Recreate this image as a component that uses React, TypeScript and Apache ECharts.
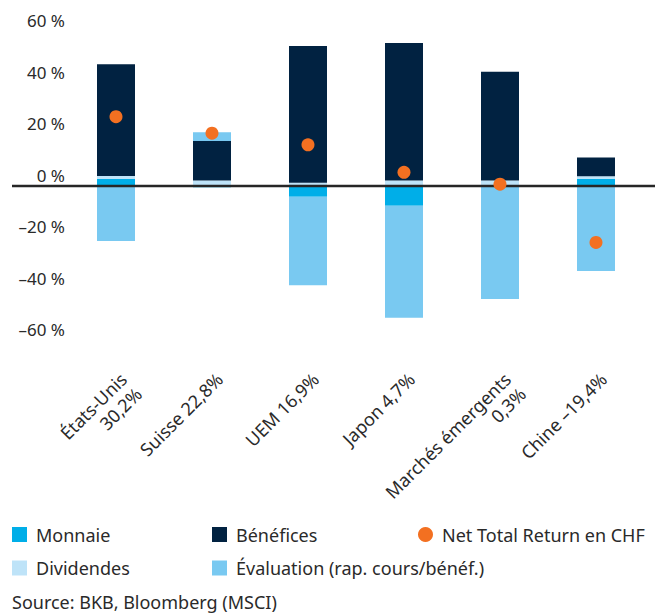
import React, { useEffect, useRef } from "react";
import * as echarts from "echarts";

const categories = [
  "États-Unis\n30,2%",
  "Suisse 22,8%",
  "UEM 16,9%",
  "Japon 4,7%",
  "Marchés émergents\n0,3%",
  "Chine –19,4%",
];
const monnaie = [2.7, -0.5, -4.2, -7.7, 0, 2.8];
const dividendes = [1.2, 2.1, 1.3, 2.1, 2.1, 1.0];
const benefices = [43.4, 15.4, 53.1, 53.4, 42.3, 7.3];
const evaluation = [-21.4, 3.4, -34.3, -43.5, -43.9, -33.0];
const netReturn = [26.9, 20.5, 16.0, 5.3, 0.7, -21.9];

const yTickValues = [-60, -40, -20, 0, 20, 40, 60];
const yTickLabels = ["–60 %", "–40 %", "–20 %", "0 %", "20 %", "40 %", "60 %"];

const FONT = "Noto Sans";
const TEXT = "#2a2a2a";
const C_MONNAIE = "#00aee8";
const C_DIVID = "#bee3f8";
const C_BENEF = "#012241";
const C_EVAL = "#79c9f1";
const C_NET = "#f37021";

const legendItem = (name: string, icon: string, left: number, top: number) => ({
  data: [{ name, icon }],
  left,
  top,
  padding: 0,
  itemWidth: 15,
  itemHeight: 15,
  selectedMode: false,
  textStyle: { fontSize: 18, lineHeight: 18, color: TEXT, fontFamily: FONT, padding: [0, 0, 0, 4] },
});

export default function App() {
  const ref = useRef<HTMLDivElement>(null);
  useEffect(() => {
    document.body.style.margin = "0";
    if (!ref.current) return;
    const chart = echarts.init(ref.current, null, { renderer: "svg" });
    const barBase = { type: "bar", stack: "total", barWidth: 38 };
    chart.setOption({
      animation: false,
      textStyle: { fontFamily: FONT },
      grid: { left: 68, right: 24, top: 31.5, bottom: 273.5, containLabel: false, outerBoundsMode: "none" },
      title: {
        text: "Source: BKB, Bloomberg (MSCI)",
        left: 12,
        top: 592,
        padding: 0,
        textStyle: { fontSize: 18, lineHeight: 20, fontWeight: "normal", color: TEXT, fontFamily: FONT },
      },
      legend: [
        legendItem("Monnaie", "rect", 12, 525.5),
        legendItem("Bénéfices", "rect", 212, 525.5),
        legendItem("Net Total Return en CHF", "circle", 418, 525.5),
        legendItem("Dividendes", "rect", 12, 559),
        legendItem("Évaluation (rap. cours/bénéf.)", "rect", 212, 559),
      ],
      xAxis: {
        type: "category",
        data: categories,
        axisLine: { show: false },
        axisTick: { show: false },
        axisLabel: {
          interval: 0,
          rotate: 45,
          margin: 28,
          fontSize: 18,
          lineHeight: 21,
          verticalAlign: "top",
          color: TEXT,
          fontFamily: FONT,
        },
      },
      yAxis: {
        type: "value",
        min: -60,
        max: 60,
        interval: 20,
        splitLine: { show: false },
        axisLine: { show: false },
        axisTick: { show: false },
        axisLabel: {
          margin: 3,
          fontSize: 17,
          lineHeight: 22,
          color: TEXT,
          fontFamily: FONT,
          verticalAlign: "bottom",
          formatter: (v: number) => {
            const i = yTickValues.indexOf(Math.round(v));
            return i >= 0 ? yTickLabels[i] : "";
          },
        },
      },
      series: [
        { ...barBase, name: "Monnaie", data: monnaie, itemStyle: { color: C_MONNAIE } },
        { ...barBase, name: "Dividendes", data: dividendes, itemStyle: { color: C_DIVID } },
        { ...barBase, name: "Bénéfices", data: benefices, itemStyle: { color: C_BENEF } },
        { ...barBase, name: "Évaluation (rap. cours/bénéf.)", data: evaluation, itemStyle: { color: C_EVAL } },
        {
          type: "scatter",
          name: "Net Total Return en CHF",
          data: netReturn,
          symbol: "circle",
          symbolSize: 13,
          itemStyle: { color: C_NET, opacity: 1 },
          z: 10,
        },
      ],
    });
    const y0 = chart.convertToPixel({ yAxisIndex: 0 }, 0) as number;
    chart.setOption({
      graphic: [
        {
          type: "line",
          shape: { x1: 12, y1: y0, x2: 655, y2: y0 },
          style: { stroke: "#262626", lineWidth: 2.5 },
          z: 5,
        },
      ],
    });
    return () => chart.dispose();
  }, []);
  return <div ref={ref} style={{ width: 668, height: 614 }} />;
}
